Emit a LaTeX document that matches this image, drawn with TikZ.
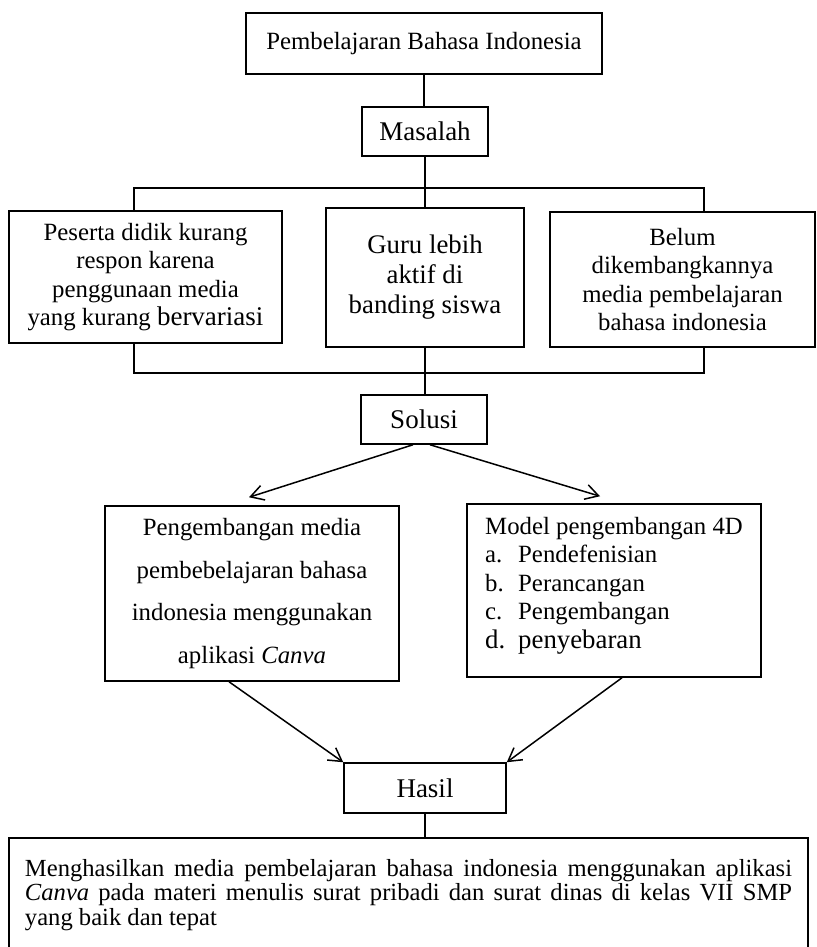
\documentclass[tikz,border=0pt]{standalone}
\usepackage{fontspec}
\setmainfont{Liberation Serif}
\usetikzlibrary{arrows.meta, positioning}
\newcommand{\bigtxt}[1]{{\fontsize{13.5}{14.3}\selectfont #1}}

\begin{document}
\begin{tikzpicture}[
    x=0.5pt, y=-0.5pt,
    block/.style={rectangle, draw, line width=0.75pt, align=center, inner sep=0pt, font=\fontsize{12.4}{14.3}\selectfont},
    head/.style={rectangle, draw, line width=0.75pt, minimum width=63pt, minimum height=24.5pt, inner sep=0pt, font=\fontsize{13.5}{15}\selectfont},
    link/.style={line width=0.75pt},
    arrow/.style={-{Straight Barb[length=6.5pt, width=7.5pt]}, line width=0.75pt},
]
    \useasboundingbox (0,0) rectangle (816,947);

    % Top and label boxes
    \node[block, minimum width=178pt, minimum height=30.5pt] (pbi) at (424,43.5) {Pembelajaran Bahasa Indonesia};
    \node[head] (masalah) at (425,131.5) {Masalah};
    \node[head] (solusi) at (424,419.5) {Solusi};
    \node[head, minimum width=81pt, minimum height=25pt] (hasil) at (425,788) {Hasil};

    % Problem boxes
    \node[block, minimum width=136.5pt, minimum height=66pt] (p1) at (145.5,277) {Peserta didik kurang\\respon karena\\penggunaan media\\yang kurang \bigtxt{bervariasi}};
    \node[block, minimum width=99pt, minimum height=69.5pt, font=\fontsize{13.4}{15}\selectfont] (p2) at (425,277.5) {Guru lebih\\aktif di\\banding siswa};
    \node[block, minimum width=132.5pt, minimum height=67.5pt] (p3) at (682.5,279.5) {Belum\\dikembangkannya\\media pembelajaran\\bahasa indonesia};

    % Solution boxes
    \node[block, minimum width=147pt, minimum height=87.5pt, font=\fontsize{12.4}{21.4}\selectfont] (devbox) at (252,593.5) {Pengembangan media\\pembebelajaran bahasa\\indonesia menggunakan\\aplikasi \textit{Canva}};
    \node[block, minimum width=147pt, minimum height=86.5pt, align=left] (modelbox) at (614,590.5) {Model pengembangan 4D\\
        \makebox[16.5pt][l]{a.}Pendefenisian\\
        \makebox[16.5pt][l]{b.}Perancangan\\
        \makebox[16.5pt][l]{c.}Pengembangan\\
        {\fontsize{13.4}{14.3}\selectfont\makebox[16.5pt][l]{d.}penyebaran}\\[-6.4pt]\mbox{}};

    % Result box (runs past the lower edge)
    \node[block, anchor=north, text width=383.5pt, align=justify, inner xsep=8pt, inner ysep=5pt, minimum height=57pt, font=\fontsize{12.3}{12.2}\selectfont] (result) at (408.5,837) {Menghasilkan media pembelajaran bahasa indonesia menggunakan aplikasi\linebreak
        \textit{Canva} pada materi menulis surat pribadi dan surat dinas di kelas VII SMP\linebreak
        yang baik dan tepat};

    % Bus points
    \coordinate (busL) at (134,188);
    \coordinate (busR) at (704,188);
    \coordinate (busL2) at (134,373);
    \coordinate (busR2) at (704,373);

    % Lines
    \draw[link] (pbi.south) -- (pbi.south |- masalah.north);
    \draw[link] (masalah.south) -- (masalah.south |- p2.north);
    \draw[link] (busL |- p1.north) -- (busL) -- (busR) -- (busR |- p3.north);
    \draw[link] (busL |- p1.south) -- (busL2) -- (busR2) -- (busR |- p3.south);
    \draw[link] (p2.south) -- (p2.south |- solusi.north);
    \draw[link] (hasil.south) -- (hasil.south |- result.north);

    % Arrows
    \draw[arrow] ([xshift=-5.5pt]solusi.south) -- ([xshift=-1.5pt, yshift=4pt]devbox.north);
    \draw[arrow] ([xshift=3pt]solusi.south) -- ([xshift=-7pt, yshift=3.5pt]modelbox.north);
    \draw[arrow] ([xshift=-11.5pt]devbox.south) -- (hasil.north west);
    \draw[arrow] ([xshift=4pt]modelbox.south) -- (hasil.north east);
\end{tikzpicture}
\end{document}
